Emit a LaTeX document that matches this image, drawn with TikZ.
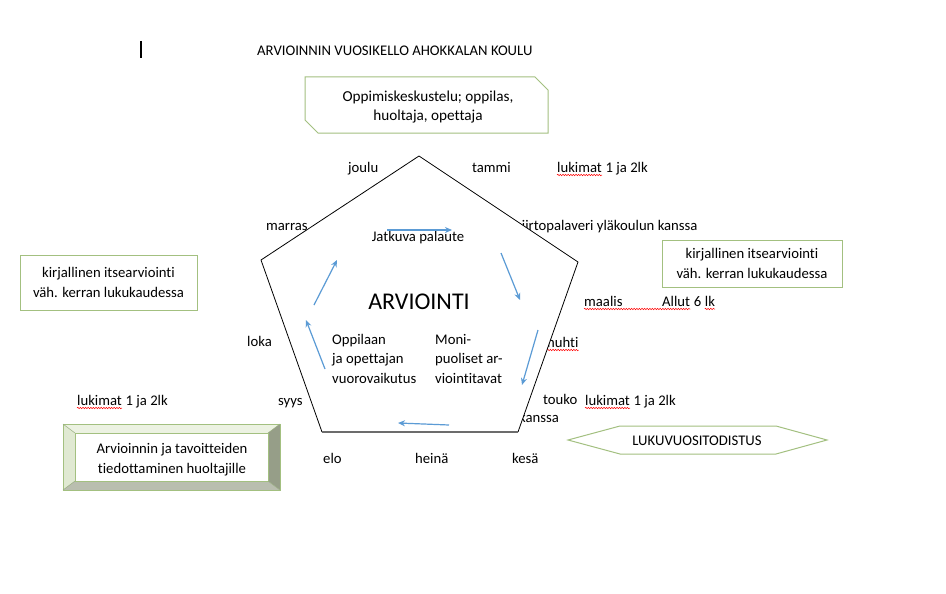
\documentclass[tikz,border=0pt]{standalone}
\usepackage{fontspec}
\setmainfont{Carlito}[Ligatures=NoCommon]
\usetikzlibrary{arrows.meta,decorations.pathmorphing}
\definecolor{bgreen}{RGB}{163,192,128}
\definecolor{ablue}{RGB}{91,155,213}
\definecolor{bevlight}{RGB}{236,242,226}
\definecolor{bevleft}{RGB}{224,233,210}
\definecolor{bevright}{RGB}{150,158,136}
\definecolor{bevbottom}{RGB}{185,190,175}
\begin{document}
\begin{tikzpicture}[x=1pt,y=-1pt,
  font=\fontsize{14.7}{19.5}\selectfont,
  lbl/.style={inner sep=0pt, anchor=base west},
  ctr/.style={inner sep=0pt, align=center},
  gbox/.style={draw=bgreen, line width=1pt, inner sep=0pt, align=center},
  wavy/.style={draw=red, line width=0.5pt, decorate, decoration={snake, amplitude=0.7pt, segment length=2.6pt}},
  flow/.style={draw=ablue, line width=1.2pt, -{Stealth[length=7pt,width=6pt]}},
  edge/.style={draw=black, line width=0.8pt}]
\useasboundingbox (0,0) rectangle (946,594);
\fill[white] (0,0) rectangle (946,594);

% cursor and title
\coordinate (cur1) at (141,41);
\coordinate (cur2) at (141,58);
\draw[line width=1.2pt] (cur1) -- (cur2);
\node[lbl] (title) at (257,56) {ARVIOINNIN VUOSIKELLO AHOKKALAN KOULU};

% snipped box
\draw[bgreen, line width=1pt, fill=white] (305,77) -- (535,77) -- (548,90) -- (548,133) -- (318,133) -- (305,120) -- cycle;
\node[ctr, font=\fontsize{15.2}{19}\selectfont] (keskustelu) at (428,107.5) {Oppimiskeskustelu; oppilas,\\huoltaja, opettaja};

% outer labels
\node[lbl] (joulu) at (348,172) {joulu};
\node[lbl] (tammi) at (472,172) {tammi};
\node[lbl] (luk1) at (557,172) {lukimat};
\node[lbl] (luk1b) at ([xshift=3.3pt]luk1.base east) {1 ja 2lk};
\node[lbl] (marras) at (266,230) {marras};
\node[lbl] (siirto) at (516,230) {siirtopalaveri yläkoulun kanssa};
\node[lbl] (maalis) at (584,306) {maalis};
\node[lbl] (allut) at (662,306) {Allut};
\node[lbl] (six) at ([xshift=3.3pt]allut.base east) {6};
\node[lbl] (lkA) at ([xshift=3.3pt]six.base east) {lk};
\node[lbl] (loka) at (247,346) {loka};
\node[lbl] (huhti) at (547,347) {huhti};
\node[lbl] (luk2) at (77,405) {lukimat};
\node[lbl] (luk2b) at ([xshift=3.3pt]luk2.base east) {1 ja 2lk};
\node[lbl] (syys) at (278,405) {syys};
\node[lbl] (touko) at (543,404) {touko};
\node[lbl] (luk3) at (585,405) {lukimat};
\node[lbl] (luk3b) at ([xshift=3.3pt]luk3.base east) {1 ja 2lk};
\node[lbl] (kanssa) at (519,422) {kanssa};
\node[lbl] (elo) at (323,463) {elo};
\node[lbl] (heina) at (415,463) {heinä};
\node[lbl] (kesa) at (512,463) {kesä};

% red wavy underlines
\draw[wavy] ([yshift=-3pt]luk1.base west) -- ([yshift=-3pt]luk1.base east);
\draw[wavy] ([yshift=-3pt]luk2.base west) -- ([yshift=-3pt]luk2.base east);
\draw[wavy] ([yshift=-3pt]luk3.base west) -- ([yshift=-3pt]luk3.base east);
\draw[wavy] ([yshift=-3pt]maalis.base west) -- ([yshift=-3pt]allut.base east);
\draw[wavy] ([yshift=-3pt]lkA.base west) -- ([yshift=-3pt]lkA.base east);
\draw[wavy] ([yshift=-3pt]huhti.base west) -- ([yshift=-3pt]huhti.base east);

% side boxes
\node[gbox, minimum width=180pt, minimum height=47pt] (rbox) at (752,263.5) {kirjallinen itsearviointi\\väh. kerran lukukaudessa};
\node[gbox, minimum width=177pt, minimum height=55pt] (lbox) at (108.5,282.5) {kirjallinen itsearviointi\\väh. kerran lukukaudessa};

% pentagon
\coordinate (ptop) at (419,156);
\coordinate (pul) at (261,260);
\coordinate (pur) at (578,262);
\coordinate (pll) at (322,432);
\coordinate (plr) at (518,432);
\fill[white] (ptop) -- (pur) -- (plr) -- (pll) -- (pul) -- cycle;
\draw[edge] (pll) -- (pul) -- (ptop) -- (pur) -- (plr);
\draw[gray!85!black, line width=1.8pt] (pll) -- (plr);

% inner texts
\node[inner sep=0pt, anchor=base] (palaute) at (418,241) {Jatkuva palaute};
\node[inner sep=0pt, anchor=base, font=\fontsize{24}{28}\selectfont] (arv) at (419,309) {ARVIOINTI};
\node[inner sep=0pt, anchor=west, align=left] (oppilaan) at (332,358.5) {Oppilaan\\ja opettajan\\vuorovaikutus};
\node[inner sep=0pt, anchor=west, align=left] (moni) at (435,358.5) {Moni-\\puoliset ar-\\viointitavat};

% cycle arrows
\coordinate (a1s) at (387,230); \coordinate (a1e) at (452,230);
\coordinate (a2s) at (501,253); \coordinate (a2e) at (520,300);
\coordinate (a3s) at (538,330); \coordinate (a3e) at (522,385);
\coordinate (a4s) at (449,425); \coordinate (a4e) at (398,423);
\coordinate (a5s) at (325,369); \coordinate (a5e) at (306,320);
\coordinate (a6s) at (314,305); \coordinate (a6e) at (337,260);
\draw[flow] (a1s) -- (a1e);
\draw[flow] (a2s) -- (a2e);
\draw[flow] (a3s) -- (a3e);
\draw[flow] (a4s) -- (a4e);
\draw[flow] (a5s) -- (a5e);
\draw[flow] (a6s) -- (a6e);

% bevel box
\fill[bevlight] (63,424) -- (280,424) -- (268,433) -- (75,433) -- cycle;
\fill[bevleft] (63,424) -- (75,433) -- (75,481) -- (63,490) -- cycle;
\fill[bevright] (280,424) -- (280,490) -- (268,481) -- (268,433) -- cycle;
\fill[bevbottom] (63,490) -- (280,490) -- (268,481) -- (75,481) -- cycle;
\draw[bgreen, line width=0.8pt] (63,424) rectangle (280,490);
\draw[bgreen, line width=0.8pt, fill=white] (75,433) rectangle (268,481);
\draw[bgreen!70!gray, line width=0.5pt] (63,424) -- (75,433) (280,424) -- (268,433) (63,490) -- (75,481) (280,490) -- (268,481);
\node[ctr] (tiedot) at (172,459.5) {Arvioinnin ja tavoitteiden\\tiedottaminen huoltajille};

% hexagon
\draw[bgreen, line width=1pt, fill=white] (568,440) -- (620,426) -- (776,426) -- (827,440) -- (776,454) -- (620,454) -- cycle;
\node[inner sep=0pt, anchor=base] (todistus) at (697,445) {LUKUVUOSITODISTUS};
\end{tikzpicture}
\end{document}
